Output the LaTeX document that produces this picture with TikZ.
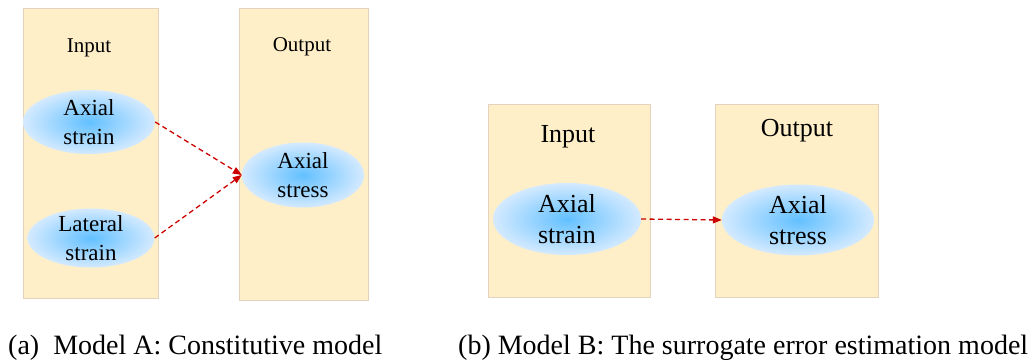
\documentclass[tikz,border=0pt]{standalone}
\usepackage{fontspec}
\setmainfont{Liberation Serif}
\usetikzlibrary{shapes.geometric, arrows.meta, positioning}
\definecolor{boxfill}{HTML}{FEEFC8}
\definecolor{boxline}{HTML}{E2D2BE}
\definecolor{bubin}{HTML}{62C0FF}
\definecolor{bubout}{HTML}{D4EAFF}
\definecolor{arrowred}{HTML}{CC0000}

\begin{document}
\begin{tikzpicture}
  [
    x=1pt, y=-1pt,
    Panel/.style={rectangle, draw=boxline, fill=boxfill, line width=0.8pt, anchor=north west, inner sep=0pt},
    Bubble/.style={ellipse, shading=radial, inner color=bubin, outer color=bubout, inner sep=0pt},
    TitleA/.style={anchor=base, inner sep=0pt, font=\fontsize{21}{25}\selectfont},
    TitleB/.style={anchor=base, inner sep=0pt, font=\fontsize{26}{31}\selectfont},
    InA/.style={align=center, inner sep=0pt, font=\fontsize{23}{29}\selectfont},
    InB/.style={align=center, inner sep=0pt, font=\fontsize{26}{31}\selectfont},
    Link/.style={-{Triangle[length=9pt, width=7pt]}, draw, arrowred, line width=1.3pt, dash pattern=on 5pt off 3.5pt},
    Caption/.style={anchor=base west, inner sep=0pt, font=\fontsize{28}{33}\selectfont}
  ]
  \useasboundingbox (0,0) rectangle (1032,362);
  % Panels
  \node[Panel, minimum width=135pt, minimum height=290pt] (inA) at (23,8) {};
  \node[Panel, minimum width=129pt, minimum height=292pt] (outA) at (239,8) {};
  \node[Panel, minimum width=162pt, minimum height=193pt] (inB) at (488,104) {};
  \node[Panel, minimum width=163pt, minimum height=193pt] (outB) at (715,104) {};
  \node[TitleA] (inAtitle) at (89,52) {Input};
  \node[TitleA] (outAtitle) at (302,51) {Output};
  \node[TitleB] (inBtitle) at (568,142) {Input};
  \node[TitleB] (outBtitle) at (797,136) {Output};
  % Bubbles
  \node[Bubble, minimum width=132pt, minimum height=64pt,
    label={[InA]center:Axial\\strain}] (strainA) at (89,122) {};
  \node[Bubble, minimum width=127pt, minimum height=59pt,
    label={[InA]center:Lateral\\strain}] (latA) at (91,238) {};
  \node[Bubble, minimum width=122pt, minimum height=65pt,
    label={[InA]center:Axial\\stress}] (stressA) at (303,175) {};
  \node[Bubble, minimum width=148pt, minimum height=72pt,
    label={[InB]center:Axial\\strain}] (strainB) at (567,219) {};
  \node[Bubble, minimum width=152pt, minimum height=71pt,
    label={[InB]center:Axial\\stress}] (stressB) at (798,220) {};
  % Lines
  \path [Link] (strainA.east) -- (stressA.west);
  \path [Link] (latA.east) -- (stressA.west);
  \path [Link] (strainB.east) -- (stressB.west);
  % Captions
  \node[Caption] (capA) at (8,354) {(a)\ \ Model A: Constitutive model};
  \node[Caption] (capB) at (458,354) {(b) Model B: The surrogate error estimation model};
\end{tikzpicture}
\end{document}
